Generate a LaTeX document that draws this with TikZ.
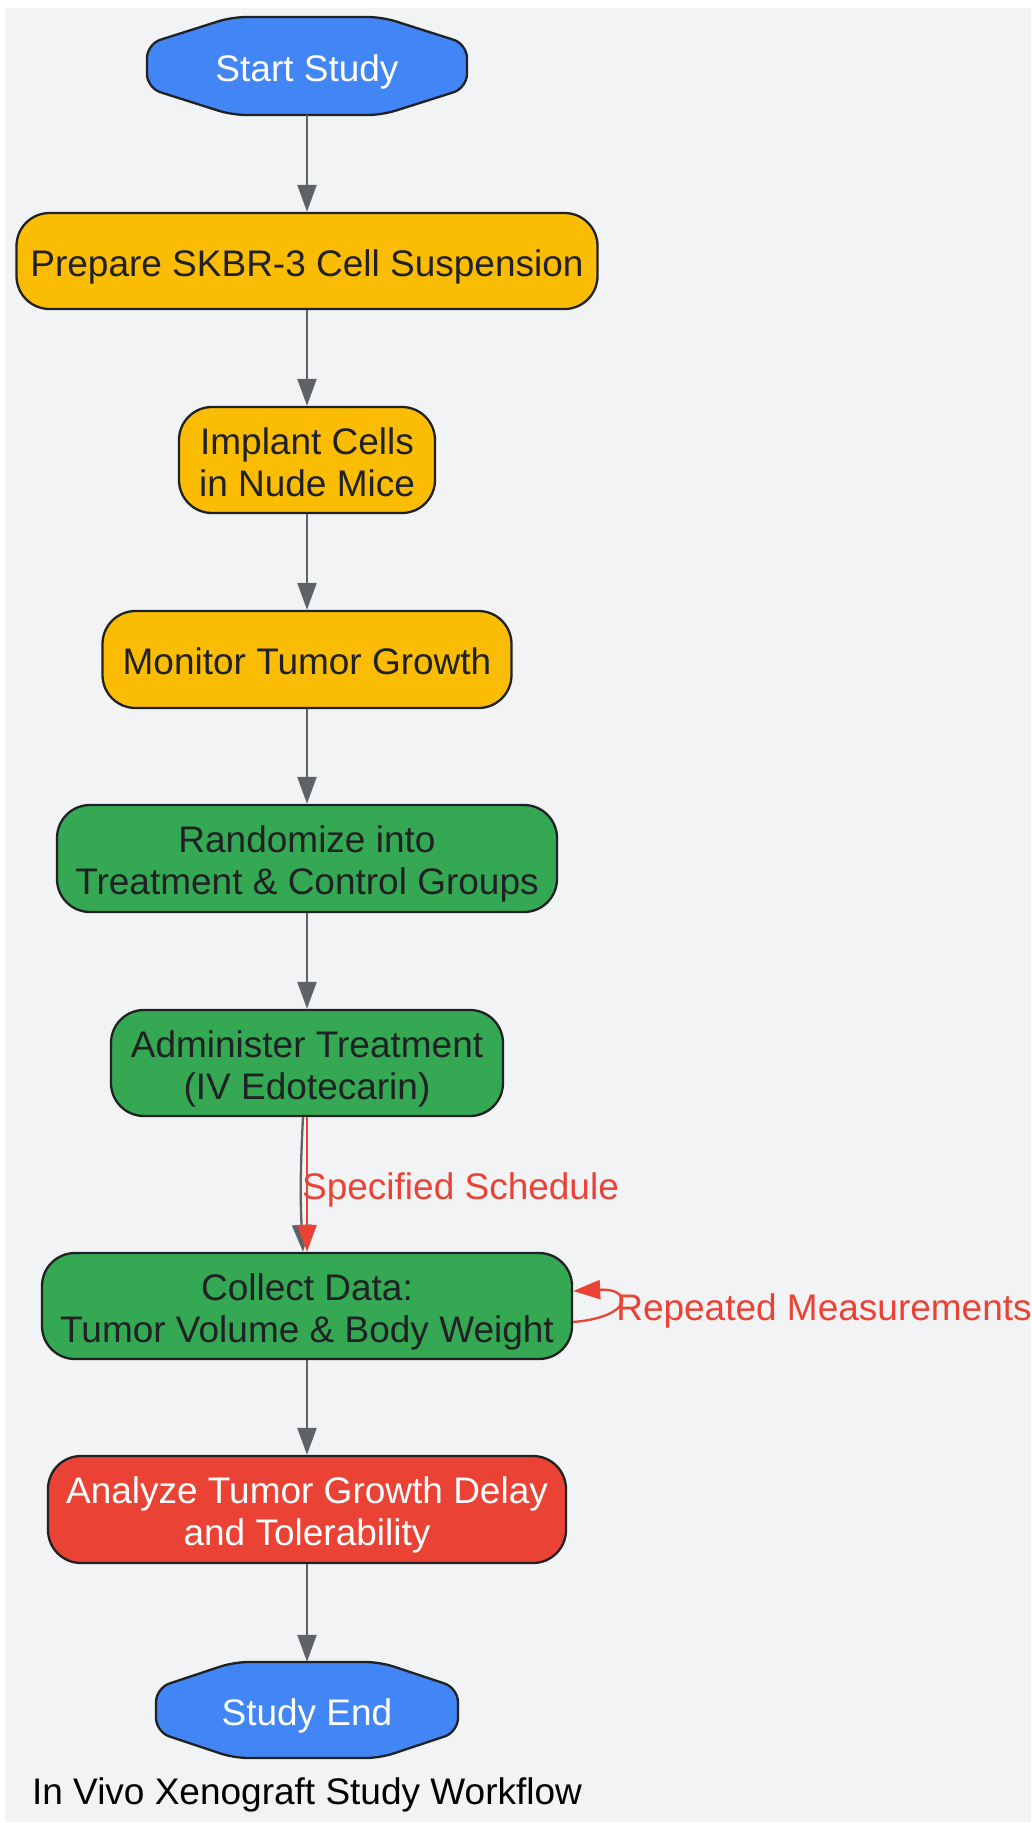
\documentclass[tikz,border=0pt]{standalone}
\usepackage{fontspec}
\setmainfont{Liberation Sans}
\usepackage{tikz}
\usetikzlibrary{calc,arrows.meta}
\definecolor{bg_gray}{HTML}{F1F3F4}
\definecolor{node_blue}{HTML}{4285F4}
\definecolor{node_yellow}{HTML}{FBBC04}
\definecolor{node_green}{HTML}{34A853}
\definecolor{node_red}{HTML}{EA4335}
\definecolor{text_dark}{HTML}{202124}
\definecolor{edge_gray}{HTML}{5F6368}

\begin{document}
\begin{tikzpicture}[x=1pt,y=-1pt,>={Triangle[length=27pt,width=19pt]},
              txt/.style={font=\fontsize{37}{42}\selectfont,align=center,inner sep=0pt},
              one/.style={text height=30pt,text depth=0pt},
              two/.style={text height=72pt,text depth=0pt},
              box/.style={txt,draw=text_dark,line width=2.3pt,rounded corners=33pt,text=text_dark},
              oct/.style={fill=node_blue,draw=text_dark,line width=2.3pt,rounded corners=14pt},
              flow/.style={->,edge_gray,line width=2.3pt},
              redflow/.style={->,node_red,line width=2.3pt}]
              \useasboundingbox (0,0) rectangle (1031,1823);
              \fill[bg_gray] (5,8) rectangle (1031,1822);
              \filldraw[oct] (307,66) ++(-75,-49) -- ++(150,0) -- ++(85,27) -- ++(0,44) -- ++(-85,27) -- ++(-150,0) -- ++(-85,-27) -- ++(0,-44) -- cycle;
              \filldraw[oct] (307,1710) ++(-73,-48) -- ++(146,0) -- ++(78,26) -- ++(0,44) -- ++(-78,26) -- ++(-146,0) -- ++(-78,-26) -- ++(0,-44) -- cycle;
              \node[txt,one,text=white,minimum width=320pt,minimum height=98pt] (S1) at (307,66) {Start Study};
              \node[box,one,fill=node_yellow,minimum width=581pt,minimum height=96pt] (P1) at (307,261) {Prepare SKBR-3 Cell Suspension};
              \node[box,two,fill=node_yellow,minimum width=256pt,minimum height=106pt] (I1) at (307,460) {Implant Cells\\in Nude Mice};
              \node[box,one,fill=node_yellow,minimum width=409pt,minimum height=97pt] (M1) at (307,659.5) {Monitor Tumor Growth};
              \node[box,two,fill=node_green,minimum width=500pt,minimum height=107pt] (R1) at (307,858.5) {Randomize into\\Treatment \& Control Groups};
              \node[box,two,fill=node_green,minimum width=392pt,minimum height=106pt] (T1) at (307,1063) {Administer Treatment\\(IV Edotecarin)};
              \node[box,two,fill=node_green,minimum width=530pt,minimum height=106pt] (C1) at (307,1306) {Collect Data:\\Tumor Volume \& Body Weight};
              \node[box,two,fill=node_red,text=white,minimum width=518pt,minimum height=107pt] (A1) at (307,1509.5) {Analyze Tumor Growth Delay\\and Tolerability};
              \node[txt,one,text=white,minimum width=302pt,minimum height=96pt] (E1) at (307,1710) {Study End};
              \node[txt,anchor=base,text=black] (W1) at (307,1804) {In Vivo Xenograft Study Workflow};
              \draw[flow] (S1) -- (P1);
              \draw[flow] (P1) -- (I1);
              \draw[flow] (I1) -- (M1);
              \draw[flow] (M1) -- (R1);
              \draw[flow] (R1) -- (T1);
              \draw[flow] ([xshift=-4pt]T1.south) to[bend right=3] ([xshift=-4pt]C1.north);
              \draw[redflow] (T1) -- (C1) node[txt,midway,anchor=west,xshift=-6pt,yshift=-5pt,text=node_red] {Specified Schedule};
              \draw[redflow] ([yshift=-16pt]C1.east) .. controls +(60,-5) and +(60,-3) .. ([yshift=15pt]C1.east) node[txt,pos=0.5,anchor=west,xshift=-3pt,yshift=-7pt,text=node_red] {Repeated Measurements};
              \draw[flow] (C1) -- (A1);
              \draw[flow] (A1) -- (E1);
          \end{tikzpicture}
\end{document}
